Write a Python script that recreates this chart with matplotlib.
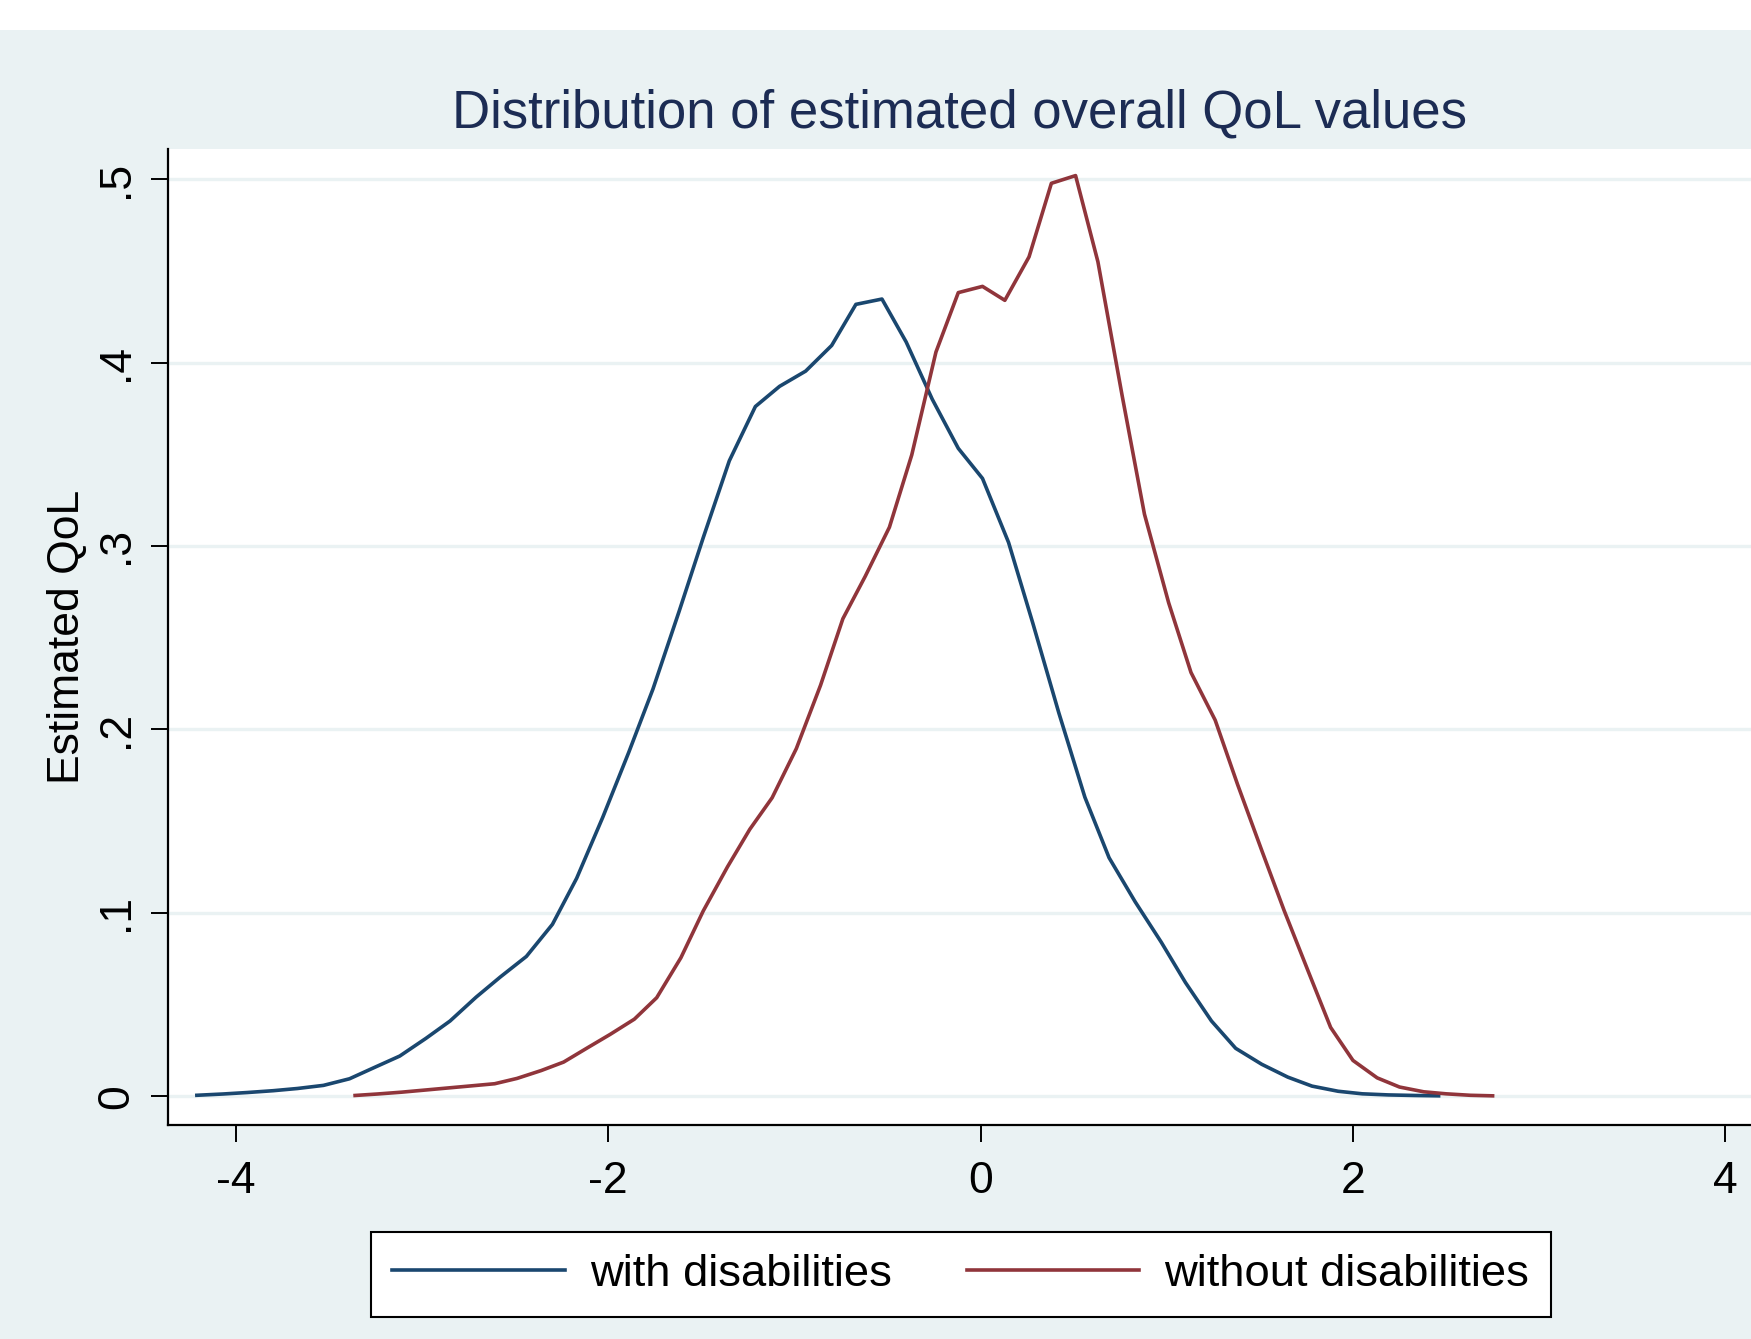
import matplotlib
matplotlib.use("Agg")
import matplotlib.pyplot as plt
from matplotlib.patches import Rectangle

plt.rcParams['font.family'] = ['Liberation Sans', 'DejaVu Sans']

# kernel density estimates, 50 points each
x_with = [-4.21, -4.07, -3.94, -3.80, -3.67, -3.53, -3.39, -3.26, -3.12, -2.98,
          -2.85, -2.71, -2.58, -2.44, -2.30, -2.17, -2.03, -1.89, -1.76, -1.62,
          -1.49, -1.35, -1.21, -1.08, -0.94, -0.80, -0.67, -0.53, -0.40, -0.26,
          -0.12, 0.01, 0.15, 0.28, 0.42, 0.56, 0.69, 0.83, 0.97, 1.10,
          1.24, 1.37, 1.51, 1.65, 1.78, 1.92, 2.05, 2.19, 2.33, 2.46]
y_with = [0.0005, 0.0012, 0.0020, 0.0030, 0.0042, 0.0059, 0.0095, 0.0155, 0.0219, 0.0315,
          0.0410, 0.0540, 0.0650, 0.0762, 0.0937, 0.1188, 0.1520, 0.1875, 0.2220, 0.2642,
          0.3045, 0.3464, 0.3760, 0.3870, 0.3953, 0.4093, 0.4317, 0.4346, 0.4112, 0.3800,
          0.3532, 0.3368, 0.3019, 0.2580, 0.2090, 0.1630, 0.1300, 0.1060, 0.0840, 0.0620,
          0.0410, 0.0261, 0.0174, 0.0104, 0.0055, 0.0027, 0.0013, 0.0007, 0.0004, 0.0002]

x_without = [-3.36, -3.24, -3.11, -2.99, -2.86, -2.74, -2.61, -2.49, -2.36, -2.24,
             -2.11, -1.99, -1.86, -1.74, -1.61, -1.49, -1.36, -1.24, -1.12, -0.99,
             -0.86, -0.74, -0.62, -0.49, -0.37, -0.24, -0.12, 0.01, 0.13, 0.26,
             0.38, 0.51, 0.63, 0.76, 0.88, 1.01, 1.13, 1.26, 1.38, 1.51,
             1.63, 1.76, 1.88, 2.00, 2.13, 2.25, 2.38, 2.50, 2.63, 2.75]
y_without = [0.0004, 0.0012, 0.0022, 0.0033, 0.0045, 0.0056, 0.0068, 0.0097, 0.0140, 0.0186,
             0.0265, 0.0337, 0.0420, 0.0537, 0.0755, 0.1010, 0.1250, 0.1455, 0.1627, 0.1895,
             0.2240, 0.2603, 0.2834, 0.3102, 0.3496, 0.4057, 0.4381, 0.4415, 0.4339, 0.4576,
             0.4977, 0.5019, 0.4549, 0.3820, 0.3173, 0.2690, 0.2310, 0.2050, 0.1700, 0.1340,
             0.1013, 0.0680, 0.0375, 0.0195, 0.0100, 0.0050, 0.0024, 0.0013, 0.0005, 0.0002]

xticks = [-4, -2, 0, 2, 4]
xtick_labels = ['-4', '-2', '0', '2', '4']
yticks = [0, 0.1, 0.2, 0.3, 0.4, 0.5]
ytick_labels = ['0', '.1', '.2', '.3', '.4', '.5']

bg = '#eaf2f3'
navy = '#1a476f'
maroon = '#90353b'

fig = plt.figure(figsize=(17.51, 13.39), dpi=100, facecolor='white')
# stata-like graph region (white strip on top)
fig.patches.append(Rectangle((0, 0), 1, 1 - 30 / 1339, transform=fig.transFigure,
                             facecolor=bg, edgecolor='none', zorder=-10))

ax = fig.add_axes([168 / 1751, 1 - 1125 / 1339, 1 - 168 / 1751, 976 / 1339])
ax.set_facecolor('white')

ax.plot(x_with, y_with, color=navy, lw=2.6, label='with disabilities', zorder=3)
ax.plot(x_without, y_without, color=maroon, lw=2.6, label='without disabilities', zorder=3)

ax.set_xlim(-4.365, 4.138)
ax.set_ylim(-0.0157, 0.5164)
ax.set_xticks(xticks)
ax.set_xticklabels(xtick_labels)
ax.set_yticks(yticks)
ax.set_yticklabels(ytick_labels, rotation=90, va='center')

ax.grid(axis='y', color=bg, lw=2.4, zorder=0)
ax.set_axisbelow(True)
for s in ['top', 'right']:
    ax.spines[s].set_visible(False)
for s in ['left', 'bottom']:
    ax.spines[s].set_linewidth(1.6)
ax.tick_params(axis='both', length=12.2, width=1.4, labelsize=32, colors='black')
ax.tick_params(axis='x', pad=13.5)
ax.tick_params(axis='y', pad=10)

ax.set_ylabel('Estimated QoL', fontsize=32, labelpad=6)
fig.text(960 / 1751, 1 - 113 / 1339, 'Distribution of estimated overall QoL values',
         fontsize=38, color='#1c2c54', ha='center', va='center')

leg = fig.legend(loc='center', bbox_to_anchor=(960.8 / 1751, 1 - 1274.2 / 1339),
                 ncol=2, fontsize=32.7, frameon=True, fancybox=False,
                 handlelength=3.8, handletextpad=0.55, columnspacing=1.65,
                 borderpad=0.48)
leg.get_frame().set_edgecolor('black')
leg.get_frame().set_linewidth(1.5)
leg.get_frame().set_facecolor('white')
leg.get_frame().set_alpha(1)

fig.savefig('out.png', dpi=100, facecolor=fig.get_facecolor())
